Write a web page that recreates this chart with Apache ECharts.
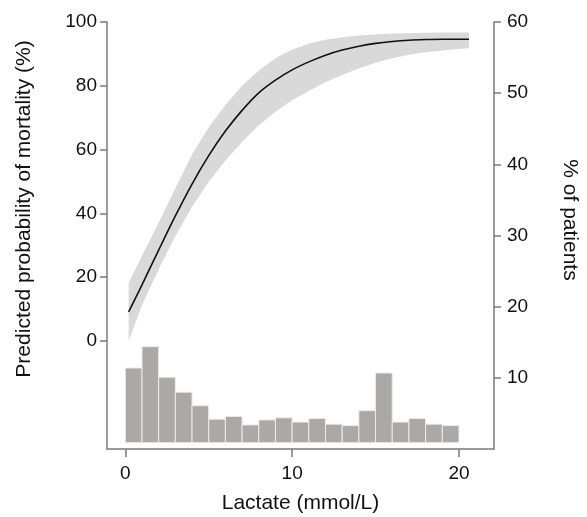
<!DOCTYPE html>
<html>
<head>
<meta charset="utf-8">
<script src="https://cdn.jsdelivr.net/npm/echarts@6/dist/echarts.min.js"></script>
<style>
  html, body { margin: 0; padding: 0; background: #fff; }
  #chart { width: 587px; height: 517px; }
</style>
</head>
<body>
<div id="chart"></div>
<script>
// lactate values (mmol/L) where the fitted curve was read
const lactate = [0.2, 1, 2, 3, 4, 5, 6, 7, 8, 9, 10, 11, 12, 13, 14, 15, 16, 17, 18, 19, 20, 20.6];
// predicted probability of mortality (%) and its confidence band
const predicted = [9.1, 17.6, 28.5, 39.2, 49.2, 58.1, 65.8, 72.3, 77.8, 81.8, 85.0, 87.5, 89.6, 91.2, 92.4, 93.3, 93.9, 94.3, 94.5, 94.6, 94.6, 94.6];
const upperCI = [18.2, 26.7, 37.1, 47.9, 58.5, 67.0, 74.0, 80.0, 84.8, 88.6, 91.4, 93.2, 94.4, 95.2, 95.8, 96.1, 96.4, 96.5, 96.6, 96.7, 96.7, 96.7];
const lowerCI = [0, 11.2, 22.5, 32.9, 42.1, 49.9, 56.6, 62.4, 67.6, 71.9, 75.5, 78.4, 81.1, 83.4, 85.4, 87.2, 88.6, 89.7, 90.5, 91.1, 91.5, 91.8];

// histogram: bin edges and % of patients per bin
const binEdges = [0, 1, 2, 3, 4, 5, 6, 7, 8, 9, 10, 11, 12, 13, 14, 15, 16, 17, 18, 19, 20];
const patientsPct = [10.5, 13.5, 9.2, 7.1, 5.2, 3.3, 3.7, 2.5, 3.2, 3.5, 2.9, 3.4, 2.6, 2.4, 4.5, 9.8, 2.9, 3.4, 2.6, 2.4];

// tick labels
const xTicks = [0, 10, 20];
const leftTicks = [0, 20, 40, 60, 80, 100];
const rightTicks = [10, 20, 30, 40, 50, 60];

const HIST_BASE = 0.885; // histogram sits slightly above the axis line

const axisColor = '#7a7a7a';
const font = 'Liberation Sans, Arial, sans-serif';

const chart = echarts.init(document.getElementById('chart'));

const histData = patientsPct.map((v, i) => [binEdges[i], binEdges[i + 1], v]);

const option = {
  animation: false,
  backgroundColor: '#fff',
  grid: { left: 107, right: 93, top: 22, bottom: 68, outerBoundsMode: 'none' },
  xAxis: {
    type: 'value',
    min: -1.097,
    max: 22.1,
    name: 'Lactate (mmol/L)',
    nameLocation: 'middle',
    nameGap: 44,
    nameTextStyle: { fontFamily: font, fontSize: 21, color: '#111' },
    axisLine: { show: true, onZero: false, lineStyle: { color: axisColor, width: 1.5 } },
    axisTick: { show: true, length: 8, customValues: xTicks, lineStyle: { color: axisColor, width: 1.5 } },
    axisLabel: { customValues: xTicks, margin: 15, fontFamily: font, fontSize: 19, color: '#111' },
    splitLine: { show: false }
  },
  yAxis: [
    {
      type: 'value',
      position: 'left',
      min: -33.86,
      max: 100,
      name: 'Predicted probability of mortality (%)',
      nameLocation: 'middle',
      nameGap: 72,
      nameTextStyle: { fontFamily: font, fontSize: 21, color: '#111', padding: [0, 0, 0, 53] },
      axisLine: { show: true, onZero: false, lineStyle: { color: axisColor, width: 1.5 } },
      axisTick: { show: true, length: 7, customValues: leftTicks, lineStyle: { color: axisColor, width: 1.5 } },
      axisLabel: { customValues: leftTicks, margin: 10, fontFamily: font, fontSize: 19, color: '#111' },
      splitLine: { show: false }
    },
    {
      type: 'value',
      position: 'right',
      min: 0,
      max: 60,
      name: '% of patients',
      nameLocation: 'middle',
      nameRotate: -90,
      nameGap: 65,
      nameTextStyle: { fontFamily: font, fontSize: 21, color: '#111', padding: [0, 31, 0, 0] },
      axisLine: { show: true, onZero: false, lineStyle: { color: axisColor, width: 1.5 } },
      axisTick: { show: true, length: 7, customValues: rightTicks, lineStyle: { color: axisColor, width: 1.5 } },
      axisLabel: { customValues: rightTicks, margin: 13, fontFamily: font, fontSize: 19, color: '#111' },
      splitLine: { show: false }
    }
  ],
  series: [
    {
      // confidence band: one polygon, upper edge then lower edge reversed
      name: 'band',
      type: 'custom',
      silent: true,
      renderItem: function (params, api) {
        const top = lactate.map((x, i) => api.coord([x, upperCI[i]]));
        const bottom = lactate.map((x, i) => api.coord([x, lowerCI[i]])).reverse();
        return {
          type: 'polygon',
          shape: { points: top.concat(bottom) },
          style: { fill: '#d9d9d9', stroke: null }
        };
      },
      data: [[lactate[0], predicted[0]]]
    },
    {
      name: 'histogram',
      type: 'custom',
      yAxisIndex: 1,
      encode: { x: [0, 1], y: 2 },
      renderItem: function (params, api) {
        const p0 = api.coord([api.value(0), HIST_BASE]);
        const p1 = api.coord([api.value(1), HIST_BASE + api.value(2)]);
        return {
          type: 'rect',
          shape: { x: p0[0], y: p1[1], width: p1[0] - p0[0], height: p0[1] - p1[1] },
          style: { fill: '#aca8a6', stroke: '#ececec', lineWidth: 1 }
        };
      },
      data: histData
    },
    {
      name: 'predicted',
      type: 'line',
      smooth: 0.3,
      symbol: 'none',
      lineStyle: { color: '#111', width: 1.6 },
      data: lactate.map((x, i) => [x, predicted[i]])
    }
  ]
};

chart.setOption(option);
</script>
</body>
</html>
